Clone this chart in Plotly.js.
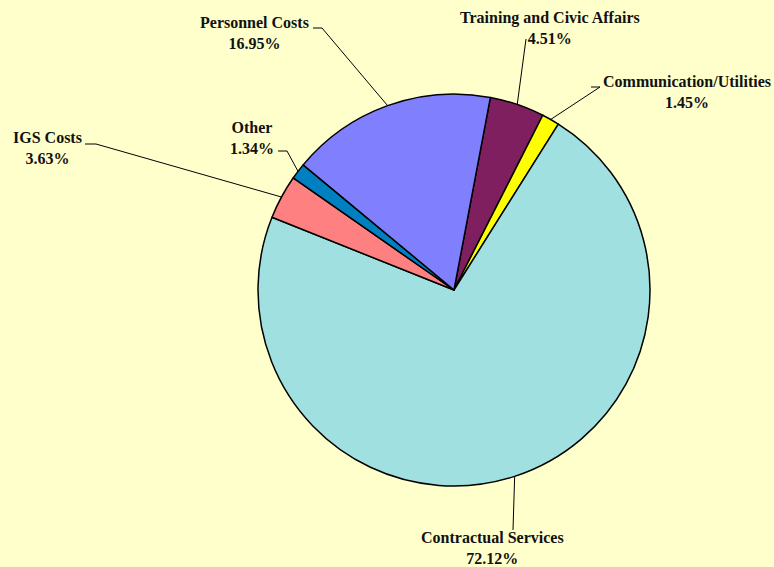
<!DOCTYPE html>
<html>
<head>
<meta charset="utf-8">
<script src="https://cdn.plot.ly/plotly-3.0.1.min.js"></script>
<style>html,body{margin:0;padding:0;background:#FFFFCC;}</style>
</head>
<body>
<div id="chart" style="width:774px;height:567px;"></div>
<script>
// Data (clockwise from the top)
const categories = ["Training and Civic Affairs", "Communication/Utilities", "Contractual Services", "IGS Costs", "Other", "Personnel Costs"];
const values = [4.51, 1.45, 72.12, 3.63, 1.34, 16.95];
const percentLabels = ["4.51%", "1.45%", "72.12%", "3.63%", "1.34%", "16.95%"];
const colors = ["#7F1F5F", "#FFFF00", "#A0E0E0", "#FF8080", "#0080C0", "#8080FF"];

// Layout settings (pixels)
const W = 774, H = 567;
const cx = 454, cy = 290, R = 196;
const rotationDeg = 10.7;
// label block centres and leader-line elbows
const labelPos = [[550, 28], [687, 92], [492, 548], [47, 148], [252, 138], [254, 33]];
const elbows = [
  [[526, 39]],
  [[591, 87], [600, 87]],
  [[513, 530]],
  [[85, 144], [96, 144]],
  [[278, 151], [287, 151]],
  [[313, 28], [322, 28]]
];

const px = x => x / W;
const py = y => 1 - y / H;

const total = values.reduce((a, b) => a + b, 0);
let acc = rotationDeg;
const anchors = values.map(v => {
  const span = v / total * 360;
  const mid = (acc + span / 2) * Math.PI / 180;
  acc += span;
  return [cx + R * Math.sin(mid), cy - R * Math.cos(mid)];
});

const shapes = [];
anchors.forEach((a, i) => {
  const pts = elbows[i].concat([a]);
  let path = "M " + px(pts[0][0]) + " " + py(pts[0][1]);
  for (let k = 1; k < pts.length; k++) path += " L " + px(pts[k][0]) + " " + py(pts[k][1]);
  shapes.push({type: "path", xref: "paper", yref: "paper", path: path, line: {color: "#000", width: 1}});
});

const annotations = categories.map((c, i) => ({
  x: px(labelPos[i][0]), y: py(labelPos[i][1]), xref: "paper", yref: "paper",
  text: "<b>" + c + "</b><br><b>" + percentLabels[i] + "</b>",
  showarrow: false, xanchor: "center", yanchor: "middle", align: "center",
  font: {family: "Liberation Serif, Times New Roman, serif", size: 16, color: "#111"}
}));

const trace = {
  type: "pie",
  labels: categories,
  values: values,
  sort: false,
  direction: "clockwise",
  rotation: rotationDeg,
  textinfo: "none",
  hoverinfo: "label+percent",
  marker: {colors: colors, line: {color: "#000", width: 1.5}},
  domain: {x: [(cx - R) / W, (cx + R) / W], y: [1 - (cy + R) / H, 1 - (cy - R) / H]},
  showlegend: false
};

Plotly.newPlot("chart", [trace], {
  width: W, height: H,
  margin: {l: 0, r: 0, t: 0, b: 0},
  paper_bgcolor: "#FFFFCC",
  plot_bgcolor: "#FFFFCC",
  showlegend: false,
  shapes: shapes,
  annotations: annotations
}, {displayModeBar: false});
</script>
</body>
</html>
